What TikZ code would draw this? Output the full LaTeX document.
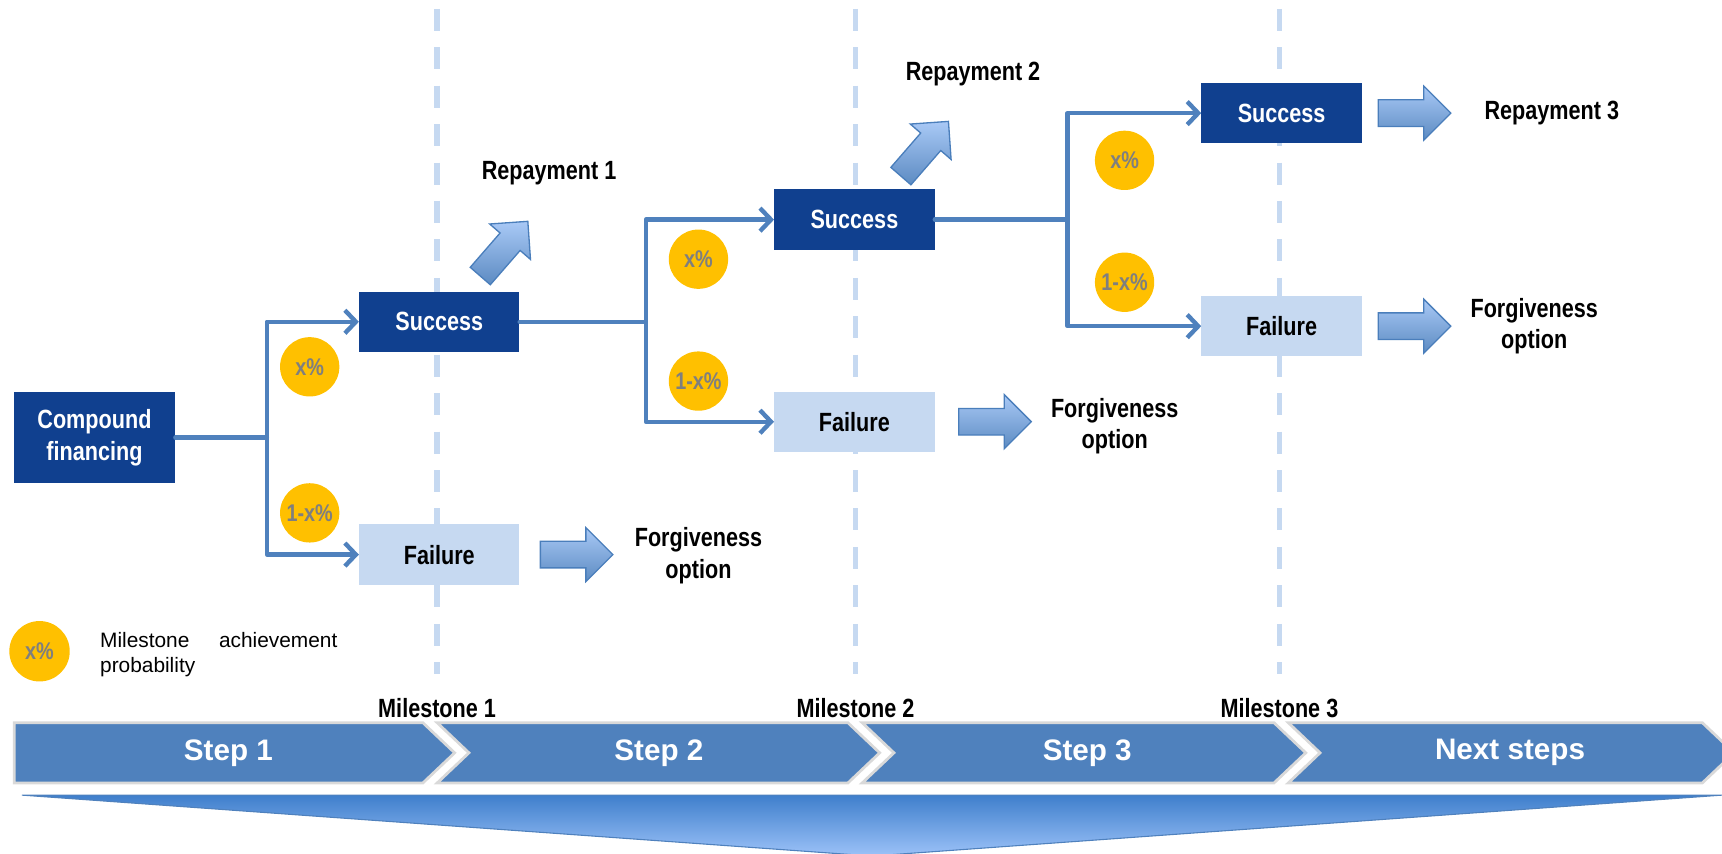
\documentclass[tikz,border=0pt]{standalone}
\usepackage{fontspec}
\setmainfont{Liberation Sans}
\newfontfamily\narrowfont{Liberation Sans}[FakeStretch=0.82]
\usetikzlibrary{arrows.meta,shapes.arrows}

\definecolor{darkbox}{HTML}{10408F}
\definecolor{lightbox}{HTML}{C6D9F1}
\definecolor{linkblue}{HTML}{4F81BD}
\definecolor{dashblue}{HTML}{C6D9F1}
\definecolor{probyellow}{HTML}{FFC000}
\definecolor{probgray}{HTML}{7F7F7F}
\definecolor{arrowlight}{HTML}{A9C9F6}
\definecolor{arrowdark}{HTML}{4A7EBB}
\definecolor{wedgetop}{HTML}{3F7FCC}
\definecolor{wedgebottom}{HTML}{9CC2F8}

\tikzset{
  success/.style={fill=darkbox, text=white, minimum width=146pt, minimum height=55pt,
    inner sep=0pt, align=center, font=\narrowfont\bfseries\fontsize{24}{29}\selectfont},
  failure/.style={success, fill=lightbox, text=black},
  prob/.style={circle, fill=probyellow, minimum size=54pt, inner sep=0pt, text=probgray,
    font=\narrowfont\bfseries\fontsize{22}{26}\selectfont},
  outcome/.style={align=center, inner sep=0pt, font=\narrowfont\bfseries\fontsize{24}{29}\selectfont},
  link/.style={draw=linkblue, line width=4pt, line cap=round, line join=round},
  linkto/.style={link, -{Straight Barb[length=10pt,width=21pt]}},
  blockarrow/.style={single arrow, draw=arrowdark, line width=1.2pt, top color=arrowlight,
    bottom color=arrowdark!90, minimum height=66pt, minimum width=48pt,
    single arrow head extend=12.5pt, inner xsep=0pt, inner ysep=11.5pt},
  milestoneline/.style={draw=dashblue, line width=5pt, dash pattern=on 20pt off 15pt},
  milestone/.style={inner sep=0pt, font=\narrowfont\bfseries\fontsize{24}{28}\selectfont},
  chevron/.style={fill=linkblue, draw=black!15, line width=2.5pt, line join=miter},
  steplabel/.style={text=white, inner sep=0pt, font=\bfseries\fontsize{27}{32}\selectfont},
}

\begin{document}
\begin{tikzpicture}[x=1pt,y=-1pt]
    \useasboundingbox (0,0) rectangle (1568,777);

    % milestones
    \foreach \mx/\mn in {398/1,779/2,1165/3}{
        \draw[milestoneline] (\mx,8) -- (\mx,614);
        \node[milestone] (ms\mn) at (\mx,645) {Milestone \mn};
    }

    % steps
    \filldraw[chevron] (13,658) -- (385,658) -- (414,685.5) -- (385,713) -- (13,713) -- cycle;
    \foreach \xl/\xr in {398/772,785/1160,1173/1550}
        \filldraw[chevron] (\xl,658) -- (\xr,658) -- (\xr+29,685.5) -- (\xr,713)
            -- (\xl,713) -- (\xl+29,685.5) -- cycle;
    \node[steplabel] (st1) at (208,685.5) {Step 1};
    \node[steplabel] (st2) at (600,685.5) {Step 2};
    \node[steplabel] (st3) at (990,685.5) {Step 3};
    \node[steplabel] (st4) at (1375,685.5) {Next steps};
    \shadedraw[top color=wedgetop, bottom color=wedgebottom, draw=linkblue, line width=1pt]
        (20,724) -- (1568,724) -- (794,779.5) -- cycle;

    % boxes
    \node[success] (cf) at (86,398.5) [minimum width=147pt, minimum height=83pt] {Compound\\financing};
    \node[success] (s1) at (400,293) {Success};
    \node[failure] (f1) at (400,505) {Failure};
    \node[success] (s2) at (778,200) {Success};
    \node[failure] (f2) at (778,384) {Failure};
    \node[success] (s3) at (1167,103) {Success};
    \node[failure] (f3) at (1167,297) {Failure};

    % tree
    \coordinate (t1) at (243,398.5);
    \coordinate (t2) at (588,293);
    \coordinate (t3) at (972,200);
    \draw[link] (cf.east) -- (t1);
    \draw[linkto] (t1) |- (s1.west);
    \draw[linkto] (t1) |- (f1.west);
    \draw[link] (s1.east) -- (t2);
    \draw[linkto] (t2) |- (s2.west);
    \draw[linkto] (t2) |- (f2.west);
    \draw[link] (s2.east) -- (t3);
    \draw[linkto] (t3) |- (s3.west);
    \draw[linkto] (t3) |- (f3.west);

    \node[prob] (p1a) at (282,334) {x\%};
    \node[prob] (p1b) at (282,467) {1-x\%};
    \node[prob] (p2a) at (636,236) {x\%};
    \node[prob] (p2b) at (636,347) {1-x\%};
    \node[prob] (p3a) at (1024,146) {x\%};
    \node[prob] (p3b) at (1024,257) {1-x\%};

    % outcomes
    \node[blockarrow, rotate=49] (ba1) at (455,231) {};
    \node[blockarrow, rotate=49] (ba2) at (838,140) {};
    \node[blockarrow] (bf1) at (519,505) {};
    \node[blockarrow] (bf2) at (900,384) {};
    \node[blockarrow] (bs3) at (1282,103) {};
    \node[blockarrow] (bf3) at (1282,297) {};
    \node[outcome] (rep1) at (500,158) {Repayment 1};
    \node[outcome] (rep2) at (886,67) {Repayment 2};
    \node[outcome] (rep3) at (1413,103) {Repayment 3};
    \node[outcome] (fo1) at (636,506) {Forgiveness\\option};
    \node[outcome] (fo2) at (1015,388) {Forgiveness\\option};
    \node[outcome] (fo3) at (1397,297) {Forgiveness\\option};

    % legend
    \node[prob, minimum size=55pt] (lg) at (36,593) {x\%};
    \node[anchor=north west, inner sep=0pt, text width=216pt, align=justify,
          font=\fontsize{19}{22}\selectfont] (lgtext) at (91,576)
          {Milestone achievement probability};
\end{tikzpicture}
\end{document}
